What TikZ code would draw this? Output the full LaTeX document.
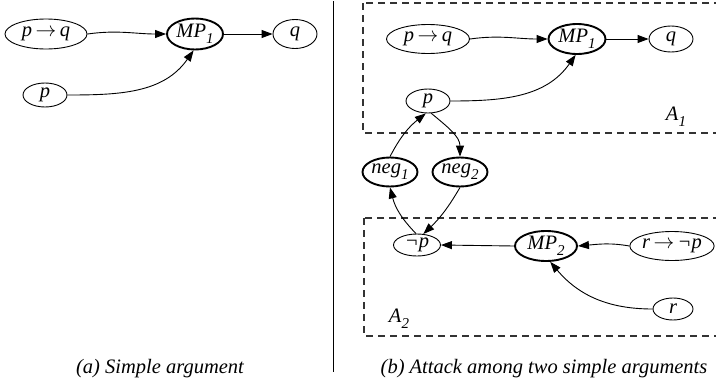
\documentclass[tikz,border=0pt]{standalone}
\usepackage{fontspec}
\setmainfont{Liberation Serif}
\usetikzlibrary{shapes.geometric,arrows.meta}
\newcommand\subx[1]{\raisebox{-0.3em}{\fontsize{15}{15}\selectfont #1}}
\newcommand\rarr{\,$\rightarrow$\,}
\tikzset{
  argnode/.style={ellipse,draw,line width=0.9pt,inner sep=0pt,
    font=\fontsize{20.5}{20.5}\selectfont\itshape},
  infnode/.style={argnode,line width=1.9pt},
  conn/.style={line width=0.9pt,-{Triangle[length=11pt,width=8pt]}},
  dashbox/.style={draw=black!80,line width=1.3pt,dash pattern=on 7pt off 5pt},
  boxlabel/.style={font=\fontsize{20.5}{20.5}\selectfont\itshape,inner sep=0pt},
  captxt/.style={font=\fontsize{20.5}{20.5}\selectfont\itshape,inner sep=0pt}
}
\begin{document}
\begin{tikzpicture}[x=1pt,y=-1pt]
\path[clip] (0,0) rectangle (716,386);
% separator
\draw[line width=0.9pt] (333,1) -- (333,372);
% ---- left panel
\node[argnode,minimum width=82pt,minimum height=30pt] (pqa) at (46,34) {p\rarr q};
\node[infnode,minimum width=56pt,minimum height=31pt] (mpa) at (195,34) {MP\subx{1}};
\node[argnode,minimum width=44pt,minimum height=29pt] (qa) at (295,34) {q};
\node[argnode,minimum width=44pt,minimum height=24pt] (pa) at (45,95) {p};
\draw[conn] (pqa.east) to[out=8,in=180] (mpa.west);
\draw[conn] (pa.east) to[out=0,in=235] (mpa.265);
\draw[conn] (mpa.east) -- (qa.west);
\node[captxt] (capa) at (160,369) {(a) Simple argument};
% ---- right panel
\draw[dashbox] (363,3) rectangle (730,133);
\draw[dashbox] (364,218) rectangle (730,336);
\node[boxlabel] (a1) at (676,117) {A\subx{1}};
\node[boxlabel] (a2) at (399,319) {A\subx{2}};
\node[argnode,minimum width=83pt,minimum height=29pt] (pqb) at (428,39) {p\rarr q};
\node[infnode,minimum width=57pt,minimum height=30pt] (mpb) at (577,39) {MP\subx{1}};
\node[argnode,minimum width=44pt,minimum height=26pt] (qb) at (671,39) {q};
\node[argnode,minimum width=44pt,minimum height=24pt] (pb) at (428,101) {p};
\node[infnode,minimum width=55pt,minimum height=29pt] (n1) at (390,172) {neg\subx{1}};
\node[infnode,minimum width=55pt,minimum height=29pt] (n2) at (460,172) {neg\subx{2}};
\node[argnode,minimum width=47pt,minimum height=22pt] (np) at (417,245) {¬p};
\node[infnode,minimum width=62pt,minimum height=30pt] (mp2) at (546,246) {MP\subx{2}};
\node[argnode,minimum width=79pt,minimum height=29pt] (rnp) at (672,246) {r\rarr ¬p};
\node[argnode,minimum width=40pt,minimum height=22pt] (r) at (673,309) {r};
\draw[conn] (pqb.east) to[out=8,in=180] (mpb.west);
\draw[conn] (pb.east) to[out=0,in=235] (mpb.265);
\draw[conn] (mpb.east) -- (qb.west);
\draw[conn] (n1.north) to[bend left=12] (pb.260);
\draw[conn] (pb.285) to[out=-40,in=90] (n2.north);
\draw[conn] (n2.south) to[bend left=8] (np.60);
\draw[conn] (np.95) to[bend left=15] (n1.south);
\draw[conn] (mp2.west) -- (np.east);
\draw[conn] (rnp.west) to[out=170,in=5] (mp2.east);
\draw[conn] (r.west) to[out=180,in=-50] (mp2.-75);
\node[captxt] (capb) at (544,369) {(b) Attack among two simple arguments};
\end{tikzpicture}
\end{document}
